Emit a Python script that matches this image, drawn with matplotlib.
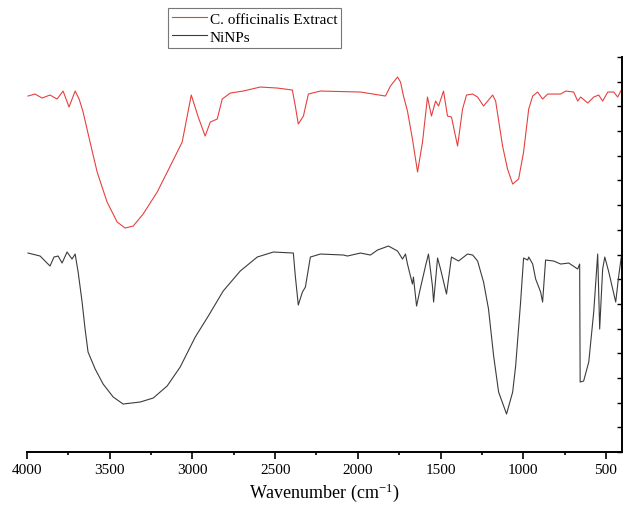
import matplotlib
matplotlib.use("Agg")
import matplotlib.pyplot as plt
from matplotlib.ticker import MultipleLocator, LinearLocator

plt.rcParams['font.family'] = ['Liberation Serif', 'DejaVu Serif']
plt.rcParams['mathtext.fontset'] = 'custom'
plt.rcParams['mathtext.rm'] = 'Liberation Serif'
plt.rcParams['mathtext.it'] = 'Liberation Serif:italic'

# FTIR spectra (wavenumber in cm-1, transmittance in arbitrary units)
extract_wn = [3994, 3952, 3909, 3861, 3818, 3782, 3746, 3709, 3685, 3661,
              3619, 3576, 3516, 3455, 3407, 3358, 3298, 3213, 3134, 3062,
              3007, 2965, 2923, 2892, 2850, 2820, 2771, 2693, 2590, 2487,
              2396, 2378, 2360, 2329, 2299, 2226, 1984, 1833, 1803, 1760,
              1742, 1724, 1700, 1670, 1639, 1609, 1579, 1555, 1530, 1512,
              1482, 1458, 1434, 1397, 1367, 1343, 1306, 1276, 1240, 1185,
              1167, 1125, 1095, 1064, 1028, 998, 967, 943, 913, 883,
              852, 774, 743, 695, 671, 653, 610, 574, 544, 520,
              489, 453, 429, 404]
extract_t = [71.2, 71.6, 70.8, 71.4, 70.6, 72.2, 69.0, 72.2, 70.6, 68.0,
             62.0, 56.0, 50.0, 46.0, 44.8, 45.2, 47.6, 52.0, 57.2, 62.0,
             71.4, 67.0, 63.2, 66.0, 66.6, 70.6, 71.8, 72.2, 73.0, 72.8,
             72.4, 69.2, 65.6, 67.2, 71.6, 72.2, 72.0, 71.2, 73.2, 75.0,
             74.0, 71.2, 68.2, 62.6, 56.0, 62.0, 71.0, 67.2, 70.2, 69.2,
             72.2, 67.2, 67.0, 61.2, 68.6, 71.4, 71.6, 71.0, 69.2, 71.4,
             70.2, 61.2, 56.6, 53.6, 54.6, 60.0, 68.6, 71.2, 72.0, 70.6,
             71.6, 71.6, 72.2, 72.0, 70.2, 71.0, 69.8, 71.0, 71.4, 70.2,
             72.0, 72.0, 71.0, 72.6]

ninps_wn = [3994, 3921, 3891, 3861, 3837, 3812, 3788, 3758, 3728, 3709,
            3691, 3667, 3649, 3631, 3588, 3540, 3479, 3419, 3316, 3237,
            3153, 3074, 2983, 2904, 2814, 2711, 2608, 2511, 2390, 2378,
            2360, 2335, 2317, 2287, 2226, 2087, 2063, 1984, 1924, 1881,
            1815, 1760, 1730, 1712, 1700, 1670, 1664, 1645, 1627, 1591,
            1573, 1549, 1542, 1518, 1500, 1464, 1434, 1391, 1337, 1306,
            1276, 1240, 1210, 1179, 1149, 1101, 1064, 1046, 1016, 998,
            973, 967, 943, 925, 895, 883, 865, 816, 774, 725,
            671, 659, 656, 635, 604, 574, 550, 538, 520, 507,
            483, 441, 423, 404]
ninps_t = [39.8, 39.2, 38.2, 37.2, 39.0, 39.2, 37.8, 40.0, 38.6, 39.6,
           36.0, 30.0, 24.6, 20.0, 16.6, 13.6, 11.0, 9.6, 10.0, 10.8,
           13.2, 17.0, 23.0, 27.2, 32.2, 36.2, 39.0, 40.0, 39.8, 35.2,
           29.4, 32.0, 33.0, 39.0, 39.6, 39.4, 39.2, 39.8, 39.4, 40.4,
           41.2, 40.2, 38.6, 39.6, 37.6, 33.6, 35.0, 29.2, 32.0, 37.2,
           39.6, 33.2, 30.0, 38.8, 36.6, 31.6, 39.0, 38.2, 39.6, 39.4,
           38.2, 34.0, 28.6, 19.2, 12.0, 7.6, 12.0, 17.2, 30.0, 38.8,
           38.4, 39.0, 37.6, 34.6, 32.0, 30.0, 38.4, 38.2, 37.6, 37.8,
           36.6, 37.6, 14.0, 14.2, 18.0, 28.0, 39.6, 24.6, 36.6, 39.0,
           36.0, 30.0, 35.2, 39.8]

fig = plt.figure(figsize=(6.24, 5.06), dpi=100)
ax = fig.add_axes([0.0433, 0.1047, 0.9535, 0.7806])

ax.plot(extract_wn, extract_t, color='#e5413f', lw=0.8, label='C. officinalis Extract')
ax.plot(ninps_wn, ninps_t, color='#3c3c3c', lw=0.8, label='NiNPs')

ax.set_xlim(4000, 403)
ax.set_ylim(0, 79)

for side in ('left', 'top'):
    ax.spines[side].set_visible(False)
for side in ('bottom', 'right'):
    ax.spines[side].set_linewidth(1.4)

ax.xaxis.set_major_locator(MultipleLocator(500))
ax.xaxis.set_minor_locator(MultipleLocator(250))
ax.tick_params(axis='x', which='major', direction='out', length=5, width=1.2,
               labelsize=11, pad=3)
ax.tick_params(axis='x', which='minor', direction='out', length=2.5, width=1.2)

ax.yaxis.tick_right()
ax.yaxis.set_major_locator(LinearLocator(17))
ax.tick_params(axis='y', direction='in', length=3.5, width=1.0,
               labelright=False, labelleft=False)

ax.set_xlabel(r'Wavenumber (cm$^{-1}$)', fontsize=13, labelpad=3)

leg = fig.legend(loc='upper left', bbox_to_anchor=(168 / 624, 1 - 9 / 506),
                 fontsize=11, frameon=True, fancybox=False, borderaxespad=0,
                 borderpad=0.25, handlelength=2.3, handletextpad=0.2,
                 labelspacing=0.3)
leg.get_frame().set_edgecolor('#555555')
leg.get_frame().set_linewidth(0.8)

fig.savefig('out.png', dpi=100)
